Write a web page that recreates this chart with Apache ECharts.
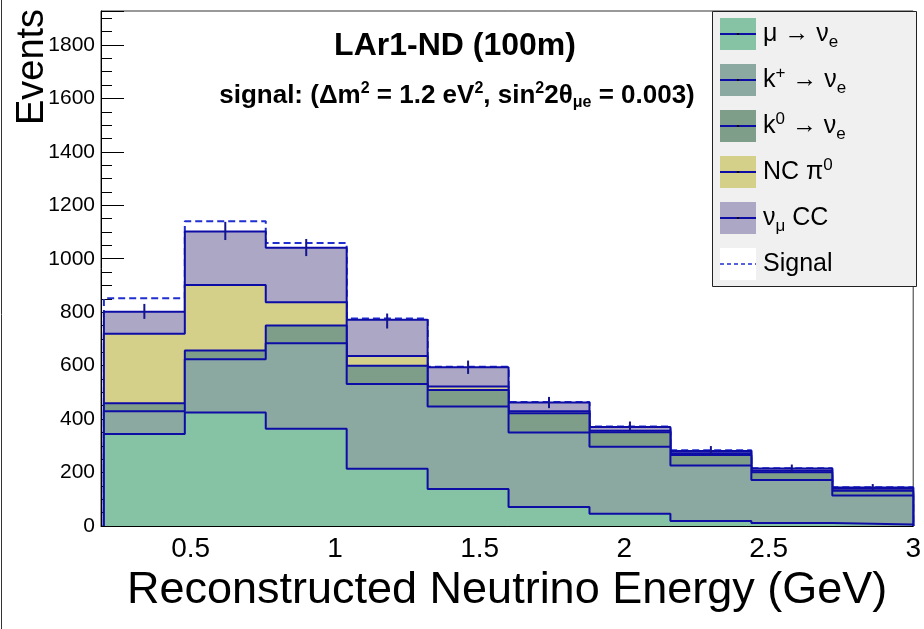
<!DOCTYPE html>
<html>
<head>
<meta charset="utf-8">
<script src="https://cdn.jsdelivr.net/npm/echarts@6/dist/echarts.min.js"></script>
<style>
html,body{margin:0;padding:0;background:#fff;}
#chart{width:924px;height:629px;}
</style>
</head>
<body>
<div id="chart"></div>
<script>
// ---- data ----
const binEdges = [0.2, 0.48, 0.76, 1.04, 1.32, 1.6, 1.88, 2.16, 2.44, 2.72, 3.0];
const muToNue   = [344, 425, 364, 214, 138, 71, 46, 19, 11, 6];
const kPlusToNue = [85, 199, 320, 317, 309, 279, 251, 207, 161, 108];
const kZeroToNue = [30, 33, 66, 69, 62, 72, 54, 40, 29, 18];
const ncPi0     = [260, 245, 87, 36, 13, 7, 5, 6, 6, 7];
const numuCC    = [83, 200, 204, 136, 72, 33, 14, 9, 8, 5];
const signalTotal = [852, 1140, 1059, 776, 596, 464, 372, 283, 216, 145];
const dataCounts = [803, 1104, 1042, 767, 594, 462, 374, 283, 216, 146];
const dataErrors = [28, 34, 32, 28, 25, 21, 17, 16, 14, 11];
const yTickLabels = [0, 200, 400, 600, 800, 1000, 1200, 1400, 1600, 1800];

const FONT = '"Liberation Sans", Arial, Helvetica, sans-serif';
const OUTLINE = '#0d0da6';

const components = [
  {name: 'mu', vals: muToNue, color: '#86c3a5'},
  {name: 'kplus', vals: kPlusToNue, color: '#8ca9a1'},
  {name: 'kzero', vals: kZeroToNue, color: '#7f9e89'},
  {name: 'nc', vals: ncPi0, color: '#d4d08a'},
  {name: 'numu', vals: numuCC, color: '#aba7c4'}
];
// cumulative stack
let running = new Array(muToNue.length).fill(0);
components.forEach(c => {
  running = running.map((r, i) => r + c.vals[i]);
  c.cum = running.slice();
});

function stepData(vals) {
  const d = [[binEdges[0], 0]];
  vals.forEach((v, i) => d.push([binEdges[i], v]));
  d.push([binEdges[binEdges.length - 1], vals[vals.length - 1]]);
  d.push([binEdges[binEdges.length - 1], 0]);
  return d;
}

const series = [];
// draw the tallest cumulative first so lower layers sit on top
components.slice().reverse().forEach((c, k) => {
  series.push({
    name: c.name,
    type: 'line',
    step: 'end',
    symbol: 'none',
    data: stepData(c.cum),
    lineStyle: {color: OUTLINE, width: 2},
    areaStyle: {color: c.color, opacity: 1},
    z: 2 + k,
    silent: true
  });
});
series.push({
  name: 'Signal',
  type: 'line',
  step: 'end',
  symbol: 'none',
  data: stepData(signalTotal),
  lineStyle: {color: '#1f2fd0', width: 2, type: [7, 4]},
  z: 1,
  silent: true
});
series.push({
  name: 'data',
  type: 'custom',
  z: 20,
  data: dataCounts.map((v, i) => [(binEdges[i] + binEdges[i + 1]) / 2, v, dataErrors[i]]),
  renderItem: function (params, api) {
    const x = api.value(0), y = api.value(1), e = api.value(2);
    const p1 = api.coord([x, y - e]);
    const p2 = api.coord([x, y + e]);
    return {
      type: 'line',
      shape: {x1: p1[0], y1: p1[1], x2: p2[0], y2: p2[1]},
      style: {stroke: '#14148c', lineWidth: 2}
    };
  }
});

// legend drawn as graphic
const legendRows = [
  {text: 'μ → ν{sub|e}', fill: '#86c3a5', dashed: false},
  {text: 'k{sup|+} → ν{sub|e}', fill: '#8ca9a1', dashed: false},
  {text: 'k{sup|0} → ν{sub|e}', fill: '#7f9e89', dashed: false},
  {text: 'NC π{sup|0}', fill: '#d4d08a', dashed: false},
  {text: 'ν{sub|μ} CC', fill: '#aba7c4', dashed: false},
  {text: 'Signal', fill: '#ffffff', dashed: true}
];
const richStyles = {
  sub: {fontSize: 17, fontFamily: FONT, padding: [16, 0, 0, 0], color: '#000'},
  sup: {fontSize: 17, fontFamily: FONT, padding: [0, 0, 14, 0], color: '#000'}
};
const graphics = [
  {type: 'line', shape: {x1: 1.5, y1: 0, x2: 1.5, y2: 629}, style: {stroke: '#333', lineWidth: 1}, z: 100},
  {type: 'rect', shape: {x: 712.5, y: 11.5, width: 204, height: 275}, style: {fill: '#f0f0f0', stroke: '#222', lineWidth: 1}, z: 100},
  {type: 'text', x: 455, y: 46, style: {text: 'LAr1-ND (100m)', fontSize: 32, fontWeight: 'bold', fontFamily: FONT, fill: '#000', align: 'center', verticalAlign: 'middle'}, z: 100},
  {type: 'text', x: 457, y: 96, style: {
    text: 'signal: (Δm{sup|2} = 1.2 eV{sup|2}, sin{sup|2}2θ{sub|μe} = 0.003)',
    fontSize: 26, fontWeight: 'bold', fontFamily: FONT, fill: '#000', align: 'center', verticalAlign: 'middle',
    rich: {
      sub: {fontSize: 16, fontWeight: 'bold', fontFamily: FONT, padding: [14, 0, 0, 0]},
      sup: {fontSize: 16, fontWeight: 'bold', fontFamily: FONT, padding: [0, 0, 14, 0]}
    }}, z: 100},
  {type: 'text', x: 33, y: 67, rotation: Math.PI / 2, style: {text: 'Events', fontSize: 38, fontFamily: FONT, fill: '#000', align: 'center', verticalAlign: 'middle'}, z: 100}
];
legendRows.forEach((r, i) => {
  const top = 18 + 46 * i;
  graphics.push({type: 'rect', shape: {x: 720, y: top, width: 36, height: 32}, style: {fill: r.fill}, z: 101});
  graphics.push({type: 'line', shape: {x1: 720, y1: top + 16, x2: 756, y2: top + 16},
    style: {stroke: r.dashed ? '#1f2fd0' : OUTLINE, lineWidth: r.dashed ? 1.5 : 2, lineDash: r.dashed ? [4, 3] : null}, z: 102});
  if (!r.dashed) {
    graphics.push({type: 'rect', shape: {x: 737, y: top + 15, width: 2, height: 2}, style: {fill: '#000'}, z: 103});
  }
  graphics.push({type: 'text', x: 763, y: top + 16, style: {text: r.text, fontSize: 25, fontFamily: FONT, fill: '#000', verticalAlign: 'middle', rich: richStyles}, z: 103});
});

const chart = echarts.init(document.getElementById('chart'), null, {renderer: 'canvas'});
chart.setOption({
  animation: false,
  backgroundColor: '#ffffff',
  grid: {left: 101, right: 8, top: 11, bottom: 103, show: true, borderColor: '#333', borderWidth: 1, backgroundColor: 'transparent'},
  xAxis: {
    type: 'value', min: 0.19, max: 3.0, splitNumber: 6,
    name: 'Reconstructed Neutrino Energy (GeV)', nameLocation: 'middle', nameGap: 30,
    nameTextStyle: {fontSize: 45, fontFamily: FONT, color: '#000'},
    axisLine: {show: true, lineStyle: {color: '#000', width: 1}},
    axisTick: {show: true, inside: true, length: 5, lineStyle: {color: '#000'}},
    minorTick: {show: true, splitNumber: 5, length: 4, lineStyle: {color: '#000'}},
    axisLabel: {fontSize: 28, fontFamily: FONT, color: '#000', margin: 9, showMinLabel: false},
    splitLine: {show: false}
  },
  yAxis: {
    type: 'value', min: 0, max: 1927, interval: 200,
    axisLine: {show: true, lineStyle: {color: '#000', width: 1}},
    axisTick: {show: true, inside: true, length: 23, lineStyle: {color: '#000'}},
    minorTick: {show: true, splitNumber: 4, length: 11, lineStyle: {color: '#000'}},
    axisLabel: {fontSize: 21, fontFamily: FONT, color: '#000', margin: 6, showMaxLabel: false,
      formatter: function (v) { return yTickLabels.indexOf(v) >= 0 ? String(v) : ''; }},
    splitLine: {show: false}
  },
  graphic: graphics,
  series: series
});
</script>
</body>
</html>
